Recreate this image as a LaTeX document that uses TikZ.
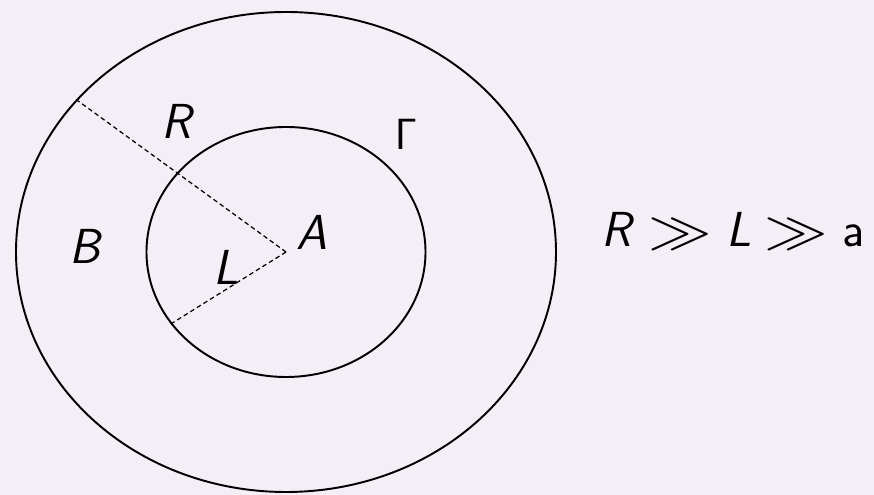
\documentclass[tikz,border=0pt]{standalone}
\usepackage{amsmath, amssymb}
\usetikzlibrary{positioning,shapes.geometric}
\definecolor{slidebg}{RGB}{244,238,247}
\newcommand{\bigGG}{\raisebox{-0.03em}{\scalebox{1.45}[1.2]{$\gg$}}}
\tikzset{
  ringnode/.style={draw, ellipse, line width=1.1pt, inner sep=0pt},
  radline/.style={dashed, line width=0.7pt, dash pattern=on 2.6pt off 1.8pt},
  letter/.style={font=\fontsize{28}{32}\selectfont\sffamily\itshape, inner sep=1pt}
}
\begin{document}
\begin{tikzpicture}
  \fill[slidebg] (0,0) rectangle (17.48,9.9);
  \useasboundingbox (0,0) rectangle (17.48,9.9);
  \coordinate (ctr) at (5.72,4.86);
  \node[ringnode, minimum width=10.8cm, minimum height=9.6cm] (outer) at (ctr) {};
  \node[ringnode, minimum width=5.58cm, minimum height=5.0cm] (inner) at (ctr) {};
  \draw[radline] (ctr) -- (outer.144);
  \draw[radline] (ctr) -- (inner.212);
  \node[letter] (lblR) at (3.52,7.48) {R};
  \node[letter, font=\fontsize{28}{32}\selectfont] (lblG) at (8.12,7.22) {$\mathsf{\Gamma}$};
  \node[letter] (lblB) at (1.7,4.98) {B};
  \node[letter] (lblA) at (6.24,5.26) {A};
  \node[letter] (lblL) at (4.52,4.56) {L};
  \node[letter, font=\fontsize{28}{32}\selectfont\sffamily] (ineq) at (14.66,5.28)
    {\textit{R}\hspace{0.28em}\bigGG\hspace{0.28em}\textit{L}\hspace{0.28em}\bigGG\hspace{0.28em}a};
\end{tikzpicture}
\end{document}
